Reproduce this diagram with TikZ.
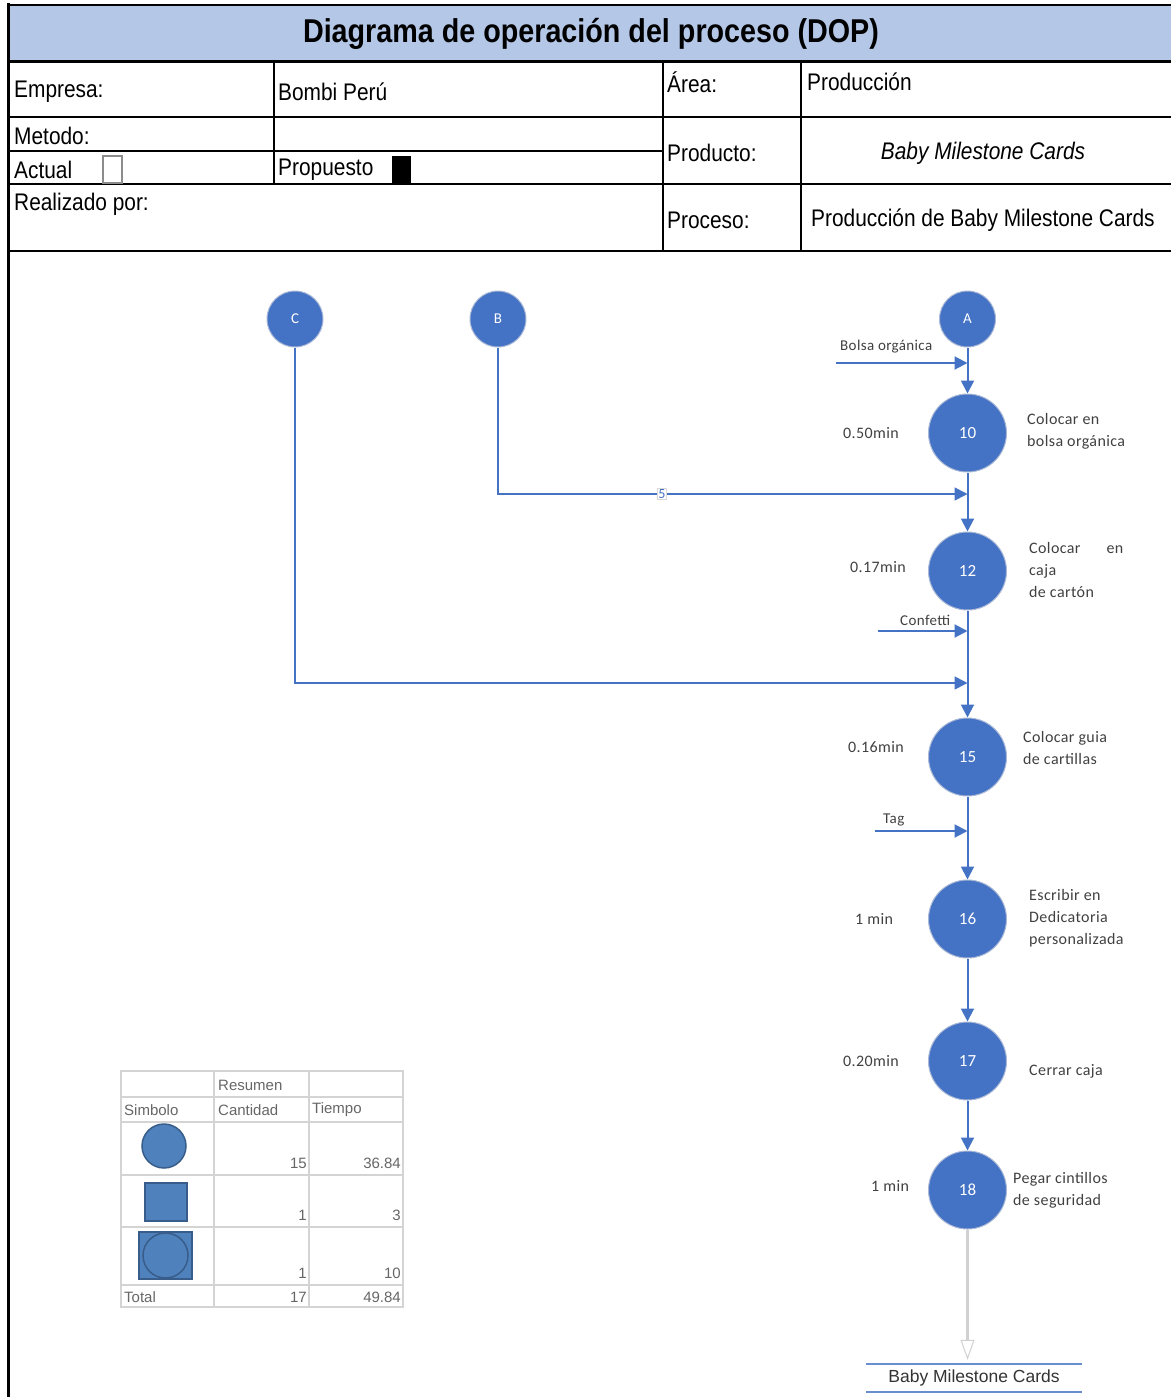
\documentclass[tikz,border=0pt]{standalone}
\usepackage{fontspec}
\setmainfont{Liberation Sans}
\newfontfamily\hdrfont{Liberation Sans}[FakeStretch=0.87]
\newfontfamily\calfont{Carlito}[LetterSpace=2.5]
\newfontfamily\numfont{Carlito}
\usetikzlibrary{arrows.meta}
\definecolor{opblue}{HTML}{4472C4}
\definecolor{hdrblue}{HTML}{B4C7E7}
\definecolor{symblue}{HTML}{4F81BD}
\definecolor{symedge}{HTML}{385D8A}
\definecolor{ringgray}{HTML}{A9B8D6}
\definecolor{gridgray}{HTML}{D4D4D4}
\definecolor{txtgray}{HTML}{404040}
\begin{document}
\begin{tikzpicture}[x=1pt,y=-1pt,
  hdr/.style={font=\hdrfont\fontsize{24}{26}\selectfont, anchor=west, inner sep=0pt},
  opnode/.style={circle, fill=opblue, draw=ringgray, line width=1pt, minimum size=78pt,
    inner sep=0pt, text=white, font=\numfont\fontsize{17}{19}\selectfont},
  connnode/.style={opnode, minimum size=56pt, font=\numfont\fontsize{15}{17}\selectfont},
  flow/.style={draw=opblue, line width=2pt, -{Triangle[length=13pt,width=13pt]}},
  timelbl/.style={font=\calfont\fontsize{16}{22}\selectfont, text=txtgray, anchor=west, inner sep=0pt},
  desc/.style={timelbl, align=left},
  tcell/.style={font=\fontsize{15}{17}\selectfont, text=black!60, inner sep=0pt},
  symshape/.style={fill=symblue, draw=symedge, line width=1.5pt}
]
\useasboundingbox (0,0) rectangle (1173,1397);

% ---------- header block ----------
\fill[hdrblue] (8,5) rectangle (1171,62);
\draw[line width=2.5pt] (8,5) -- (1171,5);
\draw[line width=3pt] (8,62) -- (1171,62);
\draw[line width=2.5pt] (8,117) -- (1171,117);
\draw[line width=1.5pt] (8,151) -- (663,151);
\draw[line width=2.5pt] (8,184) -- (1171,184);
\draw[line width=2.5pt] (8,251) -- (1171,251);
\draw[line width=1.5pt] (274,62) -- (274,184);
\draw[line width=1.5pt] (663,62) -- (663,251);
\draw[line width=1.5pt] (801,62) -- (801,251);
\draw[line width=3pt] (8,3) -- (8,1397);

\node[font=\hdrfont\bfseries\fontsize{33}{36}\selectfont, inner sep=0pt] (title) at (591,34) {Diagrama de operación del proceso (DOP)};

\node[hdr] (empresa) at (14,92) {Empresa:};
\node[hdr] (empresaval) at (278,92) {Bombi Perú};
\node[hdr] (area) at (667,82) {Área:};
\node[hdr] (areaval) at (807,82) {Producción};
\node[hdr] (metodo) at (14,136) {Metodo:};
\node[hdr] (actual) at (14,170) {Actual};
\node[hdr] (propuesto) at (278,170) {Propuesto};
\node[hdr] (producto) at (667,153) {Producto:};
\node[hdr, anchor=center, font=\hdrfont\itshape\fontsize{24}{26}\selectfont] (productoval) at (983,153) {Baby Milestone Cards};
\node[hdr] (realizado) at (14,204) {Realizado por:};
\node[hdr] (proceso) at (667,220) {Proceso:};
\node[hdr] (procesoval) at (811,220) {Producción de Baby Milestone Cards};

\draw[black!45, line width=1.5pt, fill=white] (103,156) rectangle (122,183);
\fill[black] (392,156) rectangle (411,183);

% ---------- process chart ----------
\node[connnode] (C) at (295,319) {C};
\node[connnode] (B) at (498,319) {B};
\node[connnode] (A) at (967.5,319) {A};

\node[opnode] (n10) at (967.5,433) {10};
\node[opnode] (n12) at (967.5,571) {12};
\node[opnode] (n15) at (967.5,757) {15};
\node[opnode] (n16) at (967.5,919) {16};
\node[opnode] (n17) at (967.5,1061) {17};
\node[opnode] (n18) at (967.5,1190) {18};

% main line
\draw[flow] (A) -- (n10);
\draw[flow] (n10) -- (n12);
\draw[flow] (n12) -- (n15);
\draw[flow] (n15) -- (n16);
\draw[flow] (n16) -- (n17);
\draw[flow] (n17) -- (n18);

% material inputs
\coordinate (bolsa) at (836,363);
\draw[flow] (bolsa) -- (bolsa -| A);
\node[timelbl, font=\calfont\fontsize{15}{18}\selectfont] (bolsalbl) at (840,347) {Bolsa orgánica};

\coordinate (confetti) at (878,631);
\draw[flow] (confetti) -- (confetti -| n12);
\node[timelbl, font=\calfont\fontsize{15}{18}\selectfont] (confettilbl) at (900,620) {Confetti};

\coordinate (tag) at (875,831);
\draw[flow] (tag) -- (tag -| n15);
\node[timelbl, font=\calfont\fontsize{15}{18}\selectfont] (taglbl) at (883,820) {Tag};

% sub-assemblies B and C
\coordinate (jB) at (967.5,494);
\draw[flow, line width=1.6pt] (B) |- (jB);
\node[draw=black!15, fill=white, inner sep=1pt, text=opblue, font=\numfont\fontsize{14}{15}\selectfont] (five) at (662,494) {5};

\coordinate (jC) at (967.5,683);
\draw[flow, line width=1.6pt] (C) |- (jC);

% times
\node[timelbl] (t10) at (843,433) {0.50min};
\node[timelbl] (t12) at (850,567) {0.17min};
\node[timelbl] (t15) at (848,747) {0.16min};
\node[timelbl] (t16) at (855,919) {1 min};
\node[timelbl] (t17) at (843,1061) {0.20min};
\node[timelbl] (t18) at (871,1186) {1 min};

% descriptions
\node[desc] (d10) at (1027,431.5) {Colocar en\\bolsa orgánica};
\node[desc] (d12) at (1029,570) {Colocar\hspace{26pt}en\\caja\\de cartón};
\node[desc] (d15) at (1023,747.5) {Colocar guia\\de cartillas};
\node[desc] (d16) at (1029,918.5) {Escribir en\\Dedicatoria\\personalizada};
\node[desc] (d17) at (1029,1071) {Cerrar caja};
\node[desc] (d18) at (1013,1190.5) {Pegar cintillos\\de seguridad};

% final product
\node[minimum width=215pt, minimum height=28pt, inner sep=0pt, text=black!80,
  font=\fontsize{17.5}{20}\selectfont] (prod) at (974,1378) {Baby Milestone Cards};
\draw[opblue!80, line width=1.5pt] (prod.north west) -- (prod.north east);
\draw[opblue!80, line width=1.5pt] (prod.south west) -- (prod.south east);
\draw[draw=black!18, line width=3pt, shorten >=4pt,
  -{Triangle[open, length=20pt, width=14pt, line width=1pt, fill=white]}] (n18) -- (n18 |- prod.north);

% ---------- summary table ----------
\draw[gridgray, line width=1.5pt] (121,1071) rectangle (403,1307);
\foreach \yy in {1097,1122,1175,1227,1285} \draw[gridgray, line width=1.5pt] (121,\yy) -- (403,\yy);
\foreach \xx in {214,309} \draw[gridgray, line width=1.5pt] (\xx,1071) -- (\xx,1307);

\node[tcell, anchor=west] (resumen) at (218,1085) {Resumen};
\node[tcell, anchor=west] (simbolo) at (124,1110) {Simbolo};
\node[tcell, anchor=west] (cantidad) at (218,1110) {Cantidad};
\node[tcell, anchor=west] (tiempo) at (312,1110) {Tiempo};

\node[symshape, circle, minimum size=44pt, inner sep=0pt] (symop) at (164,1146) {};
\node[symshape, rectangle, minimum width=42pt, minimum height=38pt, inner sep=0pt] (symins) at (166,1202) {};
\node[symshape, rectangle, minimum width=53pt, minimum height=47pt, inner sep=0pt] (symcomb) at (165.5,1255.5) {};
\node[symshape, circle, minimum size=45pt, inner sep=0pt] (symcombc) at (165.5,1255.5) {};

\node[tcell, anchor=east] (q1) at (307,1163) {15};
\node[tcell, anchor=east] (p1) at (401,1163) {36.84};
\node[tcell, anchor=east] (q2) at (307,1215) {1};
\node[tcell, anchor=east] (p2) at (401,1215) {3};
\node[tcell, anchor=east] (q3) at (307,1273) {1};
\node[tcell, anchor=east] (p3) at (401,1273) {10};
\node[tcell, anchor=west] (total) at (124,1297) {Total};
\node[tcell, anchor=east] (qt) at (307,1297) {17};
\node[tcell, anchor=east] (pt) at (401,1297) {49.84};

\end{tikzpicture}
\end{document}
